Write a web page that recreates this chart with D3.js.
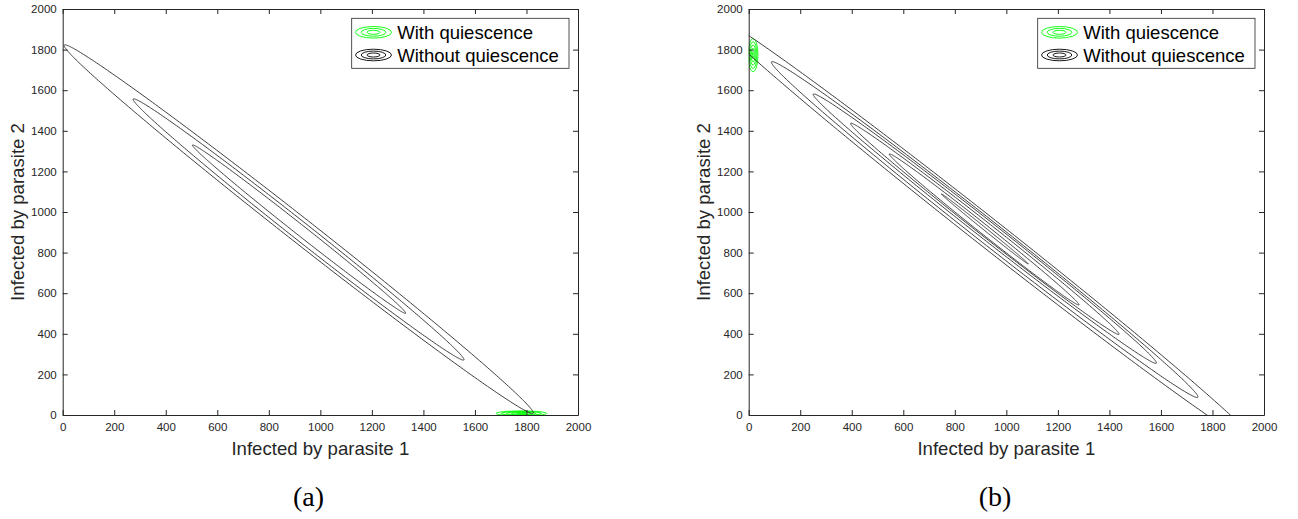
<!DOCTYPE html>
<html>
<head>
<meta charset="utf-8">
<script src="https://cdn.jsdelivr.net/npm/d3@7"></script>
<style>
  body { margin: 0; background: #fff; }
  text { font-family: "Liberation Sans", Arial, sans-serif; }
</style>
</head>
<body>
<div id="fig"></div>
<script>
// tick values, same on both axes of both panels
let tickValues = [0, 200, 400, 600, 800, 1000, 1200, 1400, 1600, 1800, 2000];

// black contours ("Without quiescence"), one row per level:
// [tip1 x, tip1 y, tip2 x, tip2 y, half width]
let blackA = [
  [6, 1823, 1826, 8, 55],
  [274, 1557, 1557, 271, 40],
  [504, 1330, 1331, 501, 23]
];
let blackB = [
  [-147, 1974, 1974, -147, 63],
  [89, 1740, 1743, 87, 51],
  [251, 1581, 1582, 255, 40],
  [396, 1437, 1437, 397, 30],
  [546, 1286, 1282, 542, 21],
  [748, 1089, 1085, 744, 6]
];

// green contours ("With quiescence"): centre and radii of each ring
let greenCentreA = [1780, 8];
let greenRxA = [98, 78, 58, 38, 18];
let greenRyA = [12, 9.5, 7, 4.5, 2];
let greenCentreB = [17, 1773];
let greenRxB = [19, 15, 11, 7, 3];
let greenRyB = [82, 66, 50, 34, 18];

let legendLabels = ["With quiescence", "Without quiescence"];
let legendColors = ["#00ff00", "#000000"];

let svgWidth = 1298, svgHeight = 519;
let plotTop = 9, plotBottom = 415, plotWidth = 515.3;

let panels = [
  {left: 62.7, caption: "(a)", capX: 308.5, black: blackA,
   gc: greenCentreA, grx: greenRxA, gry: greenRyA},
  {left: 748.7, caption: "(b)", capX: 995, black: blackB,
   gc: greenCentreB, grx: greenRxB, gry: greenRyB}
];

let svg = d3.select("#fig").append("svg")
  .attr("width", svgWidth)
  .attr("height", svgHeight);

let axisColor = "#262626";

panels.forEach(function(p, i) {
  let xScale = d3.scaleLinear().domain([0, 2000]).range([p.left, p.left + plotWidth]);
  let yScale = d3.scaleLinear().domain([0, 2000]).range([plotBottom, plotTop]);

  svg.append("clipPath").attr("id", "clip" + i)
    .append("rect")
    .attr("x", p.left).attr("y", plotTop)
    .attr("width", plotWidth).attr("height", plotBottom - plotTop);

  let plot = svg.append("g").attr("clip-path", `url(#clip${i})`);

  // green rings
  plot.selectAll("ellipse.green")
    .data(p.grx)
    .enter()
      .append("ellipse")
      .attr("cx", xScale(p.gc[0]))
      .attr("cy", yScale(p.gc[1]))
      .attr("rx", (d) => xScale(d) - xScale(0))
      .attr("ry", (d, j) => yScale(0) - yScale(p.gry[j]))
      .attr("fill", "none")
      .attr("stroke", "#00ff00")
      .attr("stroke-width", 0.9);

  // black contours, elongated ellipses between two tips
  let line = d3.line()
    .x((d) => xScale(d[0]))
    .y((d) => yScale(d[1]))
    .curve(d3.curveLinearClosed);

  plot.selectAll("path.black")
    .data(p.black)
    .enter()
      .append("path")
      .attr("d", function(c) {
        let cx = (c[0] + c[2]) / 2, cy = (c[1] + c[3]) / 2;
        let dx = c[2] - c[0], dy = c[3] - c[1];
        let len = Math.sqrt(dx * dx + dy * dy);
        let ux = dx / len, uy = dy / len;
        let a = len / 2, b = c[4];
        let pts = [];
        for (let k = 0; k < 360; k++) {
          let t = k / 360 * 2 * Math.PI;
          let ca = a * Math.cos(t), sb = b * Math.sin(t);
          pts.push([cx + ca * ux - sb * uy, cy + ca * uy + sb * ux]);
        }
        return line(pts);
      })
      .attr("fill", "none")
      .attr("stroke", "#2a2a2a")
      .attr("stroke-width", 0.9);

  // axes, ticks pointing inward on all four sides
  let fmt = d3.format("d");
  let bottomAxis = d3.axisBottom(xScale).tickValues(tickValues).tickFormat(fmt)
    .tickSizeInner(-5).tickSizeOuter(0).tickPadding(8);
  let leftAxis = d3.axisLeft(yScale).tickValues(tickValues).tickFormat(fmt)
    .tickSizeInner(-5).tickSizeOuter(0).tickPadding(6);
  let topAxis = d3.axisTop(xScale).tickValues(tickValues)
    .tickSizeInner(-5).tickSizeOuter(0).tickFormat("");
  let rightAxis = d3.axisRight(yScale).tickValues(tickValues)
    .tickSizeInner(-5).tickSizeOuter(0).tickFormat("");

  let axes = [
    svg.append("g").attr("transform", `translate(0,${plotBottom})`).call(bottomAxis),
    svg.append("g").attr("transform", `translate(${p.left},0)`).call(leftAxis),
    svg.append("g").attr("transform", `translate(0,${plotTop})`).call(topAxis),
    svg.append("g").attr("transform", `translate(${p.left + plotWidth},0)`).call(rightAxis)
  ];
  axes.forEach(function(g) {
    g.selectAll("path, line").attr("stroke", axisColor);
    g.selectAll("text")
      .attr("fill", axisColor)
      .attr("font-size", "11.5px")
      .attr("font-family", "Liberation Sans, Arial, sans-serif");
  });

  // axis titles
  svg.append("text")
    .attr("x", p.left + plotWidth / 2)
    .attr("y", 455)
    .attr("text-anchor", "middle")
    .attr("font-size", "18.6px")
    .attr("fill", axisColor)
    .text("Infected by parasite 1");

  svg.append("text")
    .attr("transform", `translate(${p.left - 39},${(plotTop + plotBottom) / 2}) rotate(-90)`)
    .attr("text-anchor", "middle")
    .attr("font-size", "18.6px")
    .attr("fill", axisColor)
    .text("Infected by parasite 2");

  // legend
  let boxW = 217.3, boxH = 50;
  let boxX = p.left + plotWidth - 9 - boxW, boxY = 18.3;
  let legend = svg.append("g");
  legend.append("rect")
    .attr("x", boxX).attr("y", boxY)
    .attr("width", boxW).attr("height", boxH)
    .attr("fill", "#fff")
    .attr("stroke", axisColor)
    .attr("stroke-width", 0.8);

  legendLabels.forEach(function(lab, j) {
    let cy = boxY + 14 + j * 22.7;
    [[18, 5.8], [12.3, 3.9], [6.5, 2]].forEach(function(r) {
      legend.append("ellipse")
        .attr("cx", boxX + 21.8).attr("cy", cy)
        .attr("rx", r[0]).attr("ry", r[1])
        .attr("fill", "none")
        .attr("stroke", legendColors[j])
        .attr("stroke-width", 0.9);
    });
    legend.append("text")
      .attr("x", boxX + 45.6)
      .attr("y", cy + 6.8)
      .attr("font-size", "18.5px")
      .attr("fill", "#000")
      .text(lab);
  });

  // panel caption
  svg.append("text")
    .attr("x", p.capX)
    .attr("y", 506)
    .attr("text-anchor", "middle")
    .attr("style", "font-family: 'Liberation Serif', serif")
    .attr("font-size", "28px")
    .attr("fill", "#000")
    .text(p.caption);
});
</script>
</body>
</html>
